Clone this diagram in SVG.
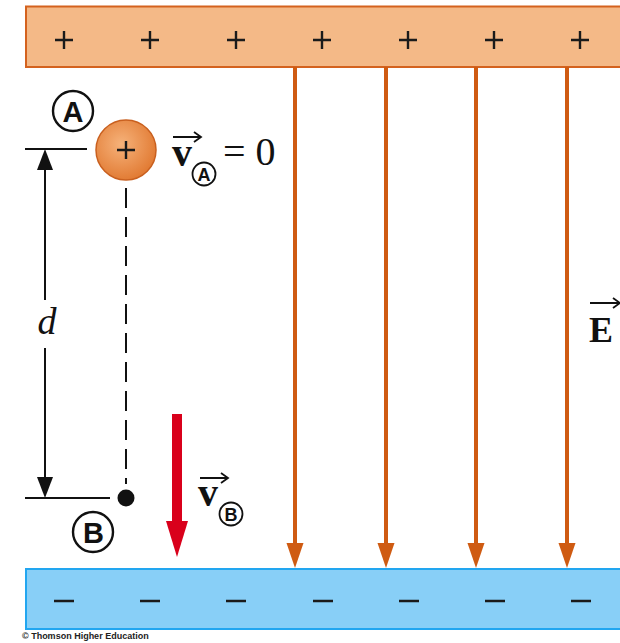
<svg xmlns="http://www.w3.org/2000/svg" width="620" height="643" viewBox="0 0 620 643">
<style>
.sign{stroke:#1a1a1a;stroke-width:2.4;fill:none}
.field{stroke:#cf5b12;stroke-width:4;fill:none}
.dim{stroke:#111;stroke-width:2;fill:none}
.circ{fill:#fff;stroke:#111;stroke-width:2.4}
.lab{font-family:"Liberation Sans",Arial,sans-serif;font-weight:bold;fill:#111;text-anchor:middle}
.math{font-family:"Liberation Serif","Times New Roman",serif;fill:#111}
.vec{stroke:#111;stroke-width:1.8;fill:none}
</style>
<defs>
<radialGradient id="ball" cx="0.42" cy="0.4" r="0.6">
<stop offset="0" stop-color="#f6b27a"/>
<stop offset="1" stop-color="#e27c35"/>
</radialGradient>
</defs>
<g id="top-plate">
<rect x="26" y="6.5" width="600" height="60.5" fill="#f4b987" stroke="#d4621e" stroke-width="2"/>
<path class="sign" d="M55,40h18M64,31v18 M141,40h18M150,31v18 M227,40h18M236,31v18 M313,40h18M322,31v18 M399,40h18M408,31v18 M485,40h18M494,31v18 M571,40h18M580,31v18"/>
</g>
<g id="bottom-plate">
<rect x="26" y="569" width="600" height="60" fill="#88cff7" stroke="#22a6f0" stroke-width="2"/>
<path class="sign" d="M54,601h20 M140,601h20 M226,601h20 M313,601h20 M399,601h20 M485,601h20 M571,601h20"/>
</g>
<g id="connectors">
<g id="field-lines">
<path class="field" d="M295,67V546"/><path d="M286.5,543L303.5,543L295,568Z" fill="#cf5b12"/>
<path class="field" d="M386,67V546"/><path d="M377.5,543L394.5,543L386,568Z" fill="#cf5b12"/>
<path class="field" d="M476,67V546"/><path d="M467.5,543L484.5,543L476,568Z" fill="#cf5b12"/>
<path class="field" d="M567,67V546"/><path d="M558.5,543L575.5,543L567,568Z" fill="#cf5b12"/>
</g>
<g id="dimension">
<path class="dim" d="M25,149H87 M25,498H110"/>
<path class="dim" d="M45,166V300 M45,348V481"/>
<path d="M45,149L37,170L53,170Z" fill="#111"/>
<path d="M45,498L37,477L53,477Z" fill="#111"/>
</g>
<path id="path-dashed" d="M126,188V484" stroke="#111" stroke-width="2" stroke-dasharray="20,9" fill="none"/>
<g id="velocity-arrow">
<rect x="172" y="414" width="10" height="110" fill="#d9001b"/>
<path d="M166,521L188,521L177,557Z" fill="#d9001b"/>
</g>
</g>
<g id="charge">
<circle cx="126" cy="150" r="30" fill="url(#ball)" stroke="#c9601f" stroke-width="1.5"/>
<path class="sign" d="M117,150h18M126,141v18"/>
</g>
<g id="point-B">
<circle cx="126" cy="498" r="8.5" fill="#111"/>
</g>
<g id="label-A">
<circle class="circ" cx="73" cy="111" r="20"/>
<text class="lab" x="73" y="121.5" font-size="29">A</text>
</g>
<g id="label-B">
<circle class="circ" cx="93" cy="532" r="20"/>
<text class="lab" x="93.5" y="542.5" font-size="29">B</text>
</g>
<g id="vA">
<text class="math" x="172" y="166" font-size="40" font-weight="bold">v</text>
<path class="vec" d="M173,137H201 M194,132L201,137L194,142"/>
<circle cx="204" cy="174" r="11.5" fill="#fff" stroke="#111" stroke-width="1.8"/>
<text class="lab" x="204" y="180.5" font-size="18">A</text>
<text class="math" x="223" y="165" font-size="40">= 0</text>
</g>
<g id="vB">
<text class="math" x="198" y="506" font-size="40" font-weight="bold">v</text>
<path class="vec" d="M200,478H228 M221,473L228,478L221,483"/>
<circle cx="231" cy="514" r="11.5" fill="#fff" stroke="#111" stroke-width="1.8"/>
<text class="lab" x="231" y="520.5" font-size="18">B</text>
</g>
<text id="d-label" class="math" x="47" y="334" font-size="38" font-style="italic" text-anchor="middle">d</text>
<g id="E-label">
<text class="math" x="589" y="342" font-size="36" font-weight="bold">E</text>
<path class="vec" d="M590,303H620 M613,298L620,303L613,308"/>
</g>
<text id="credit" x="22" y="639" font-family="Liberation Sans,Arial,sans-serif" font-size="9" font-weight="bold" fill="#222">© Thomson Higher Education</text>
</svg>
